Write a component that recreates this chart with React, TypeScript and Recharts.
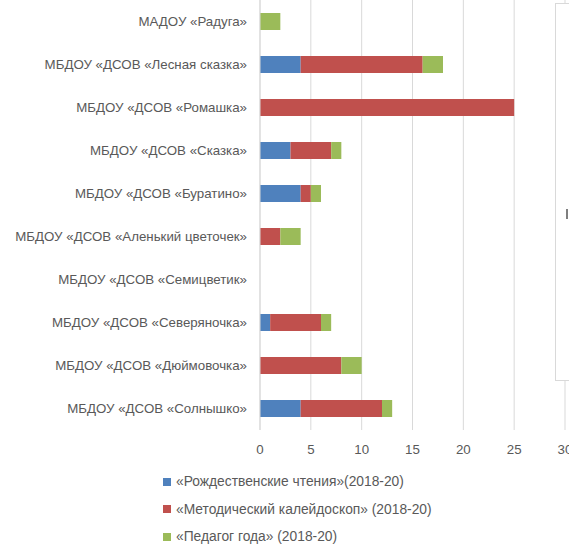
import { BarChart, Bar, XAxis, YAxis, CartesianGrid } from 'recharts';

const categories = [
  'МАДОУ «Радуга»',
  'МБДОУ «ДСОВ «Лесная сказка»',
  'МБДОУ «ДСОВ «Ромашка»',
  'МБДОУ «ДСОВ «Сказка»',
  'МБДОУ «ДСОВ «Буратино»',
  'МБДОУ «ДСОВ «Аленький цветочек»',
  'МБДОУ «ДСОВ «Семицветик»',
  'МБДОУ «ДСОВ «Северяночка»',
  'МБДОУ «ДСОВ «Дюймовочка»',
  'МБДОУ «ДСОВ «Солнышко»',
];

const readings = [0, 4, 0, 3, 4, 0, 0, 1, 0, 4];
const kaleidoscope = [0, 12, 25, 4, 1, 2, 0, 5, 8, 8];
const teacher = [2, 2, 0, 1, 1, 2, 0, 1, 2, 1];

const xTicks = [0, 5, 10, 15, 20, 25, 30];

const seriesNames = [
  '«Рождественские чтения»(2018-20)',
  '«Методический калейдоскоп» (2018-20)',
  '«Педагог года» (2018-20)',
];
const seriesColors = ['#4F81BD', '#C0504D', '#9BBB59'];

const data = categories.map((name, i) => ({
  name,
  readings: readings[i],
  kaleidoscope: kaleidoscope[i],
  teacher: teacher[i],
}));

const FONT = '"Liberation Sans", Arial, sans-serif';
const TEXT = '#595959';

// single-line category label (default tick wraps the long one)
const CategoryTick = (props: any) => {
  const { x, y, payload } = props;
  return (
    <text x={x} y={y} dy="0.355em" textAnchor="end" fill={TEXT} fontSize={13.3} fontFamily={FONT}>
      {payload.value}
    </text>
  );
};

const App = () => {
  return (
    <div style={{ position: 'fixed', left: 0, top: 0, width: 569, height: 546, overflow: 'hidden', background: '#fff' }}>
      <BarChart
        width={590}
        height={470}
        data={data}
        layout="vertical"
        margin={{ top: 0, right: 25, bottom: 10, left: 0 }}
        barSize={17}
      >
        <CartesianGrid horizontal={false} stroke="#d9d9d9" />
        <XAxis
          type="number"
          domain={[0, 30]}
          ticks={xTicks}
          axisLine={false}
          tickLine={false}
          tickMargin={9}
          tick={{ fill: TEXT, fontSize: 13.3, fontFamily: FONT }}
          height={30}
        />
        <YAxis
          type="category"
          dataKey="name"
          width={260}
          axisLine={{ stroke: '#d9d9d9' }}
          tickLine={false}
          tickMargin={7}
          interval={0}
          tick={<CategoryTick />}
        />
        <Bar dataKey="readings" stackId="a" fill={seriesColors[0]} name={seriesNames[0]} isAnimationActive={false} />
        <Bar dataKey="kaleidoscope" stackId="a" fill={seriesColors[1]} name={seriesNames[1]} isAnimationActive={false} />
        <Bar dataKey="teacher" stackId="a" fill={seriesColors[2]} name={seriesNames[2]} isAnimationActive={false} />
      </BarChart>
      <div style={{ position: 'absolute', left: 163, top: 468, fontFamily: FONT, fontSize: 13.8, color: TEXT }}>
        {seriesNames.map((label, i) => (
          <div key={label} style={{ display: 'flex', alignItems: 'center', height: 27.5 }}>
            <span style={{ width: 8, height: 8, background: seriesColors[i], marginRight: 5, display: 'inline-block' }} />
            <span>{label}</span>
          </div>
        ))}
      </div>
      <div style={{ position: 'absolute', left: 555, top: 3, width: 30, height: 376, border: '1px solid #d9d9d9', background: '#fff' }} />
      <div style={{ position: 'absolute', left: 566, top: 209, width: 2, height: 10, background: '#7f7f7f' }} />
    </div>
  );
};

export default App;
